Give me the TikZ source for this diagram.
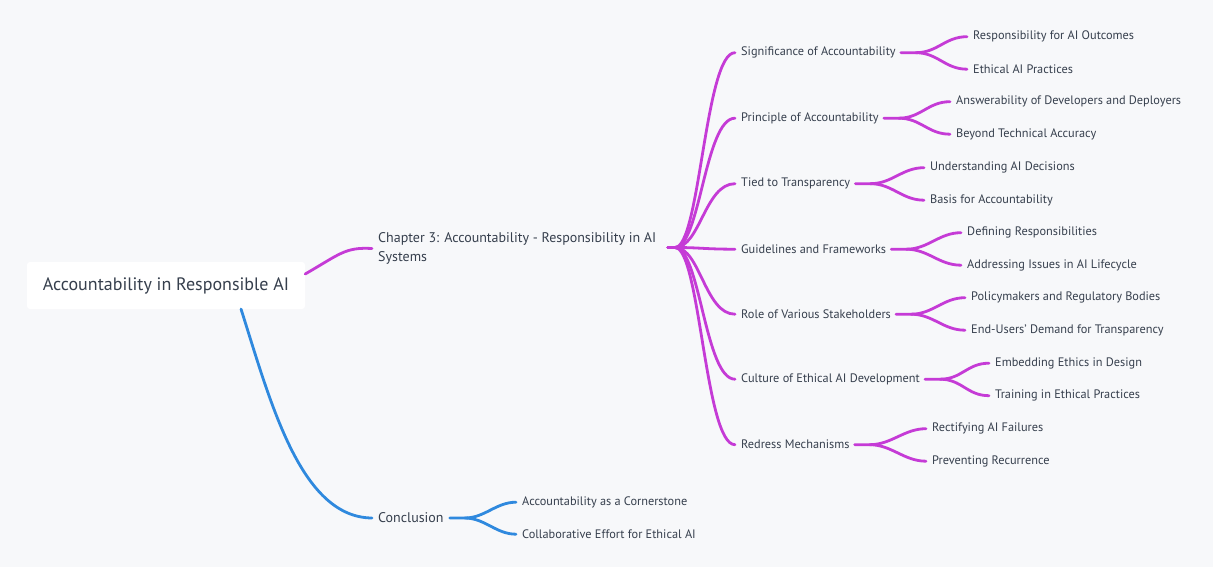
\documentclass[tikz,border=0pt]{standalone}
\usepackage{fontspec}
\setmainfont{PT Sans}
\definecolor{bg}{HTML}{F7F8FA}
\definecolor{mag}{HTML}{C53BD6}
\definecolor{blu}{HTML}{2F89DE}
\definecolor{txt}{HTML}{363F4D}
\tikzset{
  lbl/.style={anchor=west,inner sep=0pt,yshift=-0.7pt,text=txt,font=\fontsize{12.3}{14}\selectfont},
  mid/.style={anchor=west,inner sep=0pt,yshift=-0.5pt,text=txt,font=\fontsize{14}{19}\selectfont,align=left},
  rootbox/.style={fill=white,rounded corners=3pt,minimum width=278pt,minimum height=47pt,text=txt,font=\fontsize{18}{21}\selectfont},
  mline/.style={draw=mag,line width=2.8pt,line cap=round},
  bline/.style={draw=blu,line width=2.8pt,line cap=round}
}
\begin{document}
\begin{tikzpicture}[x=1pt,y=-1pt]
\fill[bg] (0,0) rectangle (1213,567);
\useasboundingbox (0,0) rectangle (1213,567);

\node[rootbox] (root) at (166,285.5) {Accountability in Responsible AI};

\node[mid] (ch) at (378,248) {Chapter 3: Accountability - Responsibility in AI\\Systems};
\node[mid] (con) at (378,517.5) {Conclusion};

% level 2
\node[lbl] (c1) at (741,52) {Significance of Accountability};
\node[lbl] (c2) at (741,117.5) {Principle of Accountability};
\node[lbl] (c3) at (741,183) {Tied to Transparency};
\node[lbl] (c4) at (741,248.5) {Guidelines and Frameworks};
\node[lbl] (c5) at (741,313.5) {Role of Various Stakeholders};
\node[lbl] (c6) at (741,378.5) {Culture of Ethical AI Development};
\node[lbl] (c7) at (741,444) {Redress Mechanisms};

\node[lbl] (d1) at (522,501.5) {Accountability as a Cornerstone};
\node[lbl] (d2) at (522,533.5) {Collaborative Effort for Ethical AI};

% level 3
\node[lbl] (g1a) at (973,36) {Responsibility for AI Outcomes};
\node[lbl] (g1b) at (973,68.5) {Ethical AI Practices};
\node[lbl] (g2a) at (956,101) {Answerability of Developers and Deployers};
\node[lbl] (g2b) at (956,133.5) {Beyond Technical Accuracy};
\node[lbl] (g3a) at (930,167) {Understanding AI Decisions};
\node[lbl] (g3b) at (930,199.5) {Basis for Accountability};
\node[lbl] (g4a) at (967,232) {Defining Responsibilities};
\node[lbl] (g4b) at (967,264.5) {Addressing Issues in AI Lifecycle};
\node[lbl] (g5a) at (971,297) {Policymakers and Regulatory Bodies};
\node[lbl] (g5b) at (971,329.5) {End-Users' Demand for Transparency};
\node[lbl] (g6a) at (995,362.5) {Embedding Ethics in Design};
\node[lbl] (g6b) at (995,395) {Training in Ethical Practices};
\node[lbl] (g7a) at (932,428) {Rectifying AI Failures};
\node[lbl] (g7b) at (932,460.5) {Preventing Recurrence};

% root connectors
\draw[mline] (root.east |- 0,274) coordinate (r1) .. controls (340,254) and (345,247) .. ([xshift=-6pt]ch.west);
\draw[bline] (241,309) coordinate (r2) .. controls (270,400) and (300,517.5) .. ([xshift=-6pt]con.west);

% chapter hub
\coordinate (hub) at (668,247.5);
\foreach \c in {c1,c2,c3,c4,c5,c6,c7}{
  \draw[mline] (hub) -- ++(7,0) .. controls (700,247.5) and (705,0 |- \c.west) .. ([xshift=-6pt]\c.west);
}

% conclusion fork
\draw[bline] ([xshift=6pt]con.east) -- ++(15,0) coordinate (k) .. controls +(20,0) and +(-20,0) .. ([xshift=-6pt]d1.west);
\draw[bline] (k) .. controls +(20,0) and +(-20,0) .. ([xshift=-6pt]d2.west);

% level 3 forks
\foreach \p/\a/\b in {c1/g1a/g1b,c2/g2a/g2b,c3/g3a/g3b,c4/g4a/g4b,c5/g5a/g5b,c6/g6a/g6b,c7/g7a/g7b}{
  \draw[mline] ([xshift=5pt]\p.east) -- ++(15,0) coordinate (k) .. controls +(22,0) and +(-22,0) .. ([xshift=-6pt]\a.west);
  \draw[mline] (k) .. controls +(22,0) and +(-22,0) .. ([xshift=-6pt]\b.west);
}
\end{tikzpicture}
\end{document}
